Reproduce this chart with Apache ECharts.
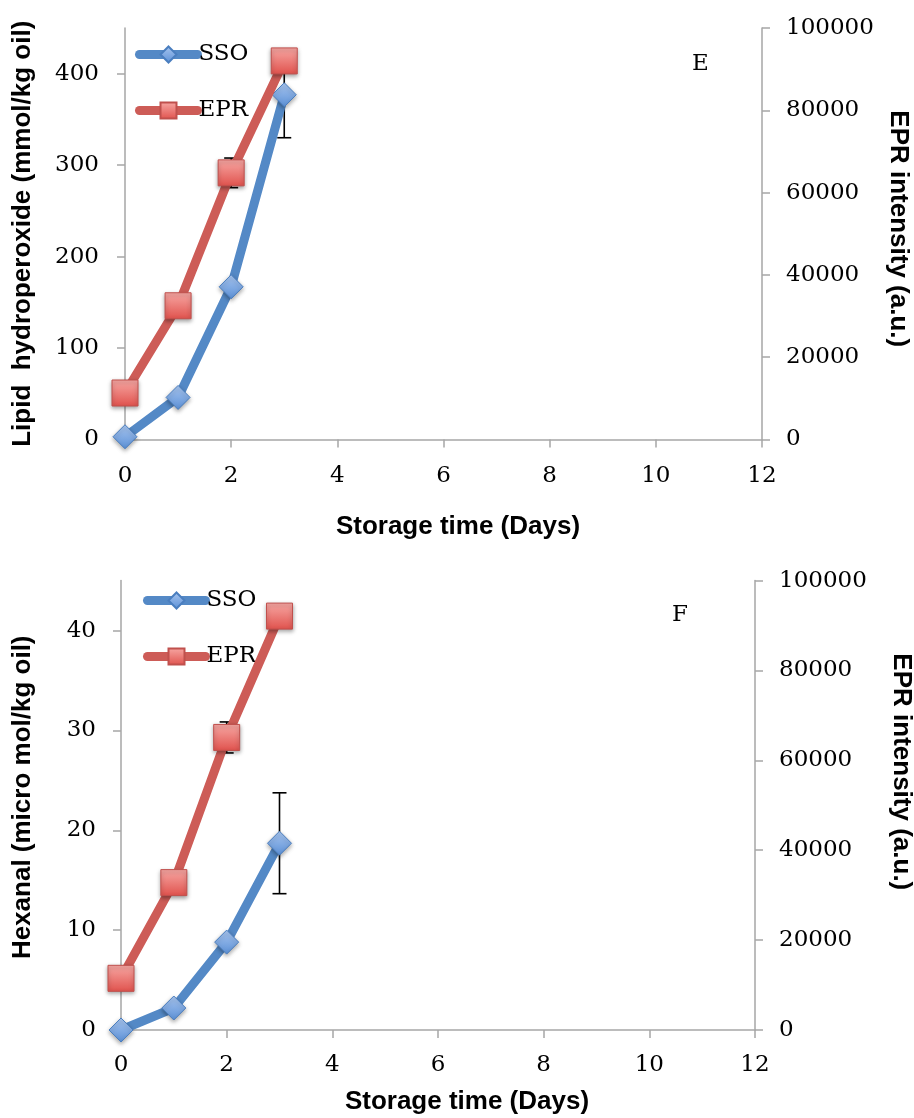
<!DOCTYPE html>
<html><head><meta charset="utf-8">
<script src="https://cdn.jsdelivr.net/npm/echarts@6/dist/echarts.min.js"></script>
<style>html,body{margin:0;padding:0;background:#fff}#c{width:914px;height:1118px}</style>
</head><body><div id="c"></div>
<script>
// ---- data ----
const days = [0, 1, 2, 3];
const ssoHydroperoxide = [3, 46, 167, 377];
const ssoHydroperoxideErr = [null, null, null, 47];
const eprIntensityE = [11300, 32500, 64800, 92000];
const eprErrE = [null, null, 3600, null];
const ssoHexanal = [0, 2.2, 8.8, 18.7];
const ssoHexanalErr = [null, null, null, 5.05];
const eprIntensityF = [11500, 32800, 65100, 92100];
const eprErrF = [null, null, 3450, null];
const xTicks = [0, 2, 4, 6, 8, 10, 12];
const hydroTicks = [0, 100, 200, 300, 400];
const hexanalTicks = [0, 10, 20, 30, 40];
const eprTicks = [0, 20000, 40000, 60000, 80000, 100000];
const seriesNames = ['SSO', 'EPR'];
const panelLabels = ['E', 'F'];

// ---- styles ----
const SERIF = 'DejaVu Serif';
const SANS = 'Liberation Sans';
const AX = '#a6a6a6';
const BLUE = '#5489c6';
const RED = '#cd5c57';
const blueFill = new echarts.graphic.LinearGradient(0, 0, 0, 1, [
  {offset: 0, color: '#a9c6f0'}, {offset: 1, color: '#5b90d6'}]);
const redFill = new echarts.graphic.LinearGradient(0, 0, 0, 1, [
  {offset: 0, color: '#f7a8a4'}, {offset: 1, color: '#e0524d'}]);

function pairs(xs, ys) { return xs.map((x, i) => [x, ys[i]]); }
function errData(xs, ys, es) {
  const out = [];
  xs.forEach((x, i) => { if (es[i] != null) out.push([x, ys[i] - es[i], ys[i] + es[i]]); });
  return out;
}
function errRender(params, api) {
  const x = api.value(0), lo = api.value(1), hi = api.value(2);
  const pLo = api.coord([x, lo]), pHi = api.coord([x, hi]);
  const w = 7;
  const style = {stroke: '#000', lineWidth: 1.6};
  return {type: 'group', children: [
    {type: 'line', shape: {x1: pLo[0], y1: pLo[1], x2: pHi[0], y2: pHi[1]}, style: style},
    {type: 'line', shape: {x1: pLo[0] - w, y1: pLo[1], x2: pLo[0] + w, y2: pLo[1]}, style: style},
    {type: 'line', shape: {x1: pHi[0] - w, y1: pHi[1], x2: pHi[0] + w, y2: pHi[1]}, style: style}
  ]};
}
const plain = v => String(v);

const tickLabel = {fontFamily: SERIF, fontSize: 23, color: '#000', formatter: plain};
const titleText = {fontFamily: SANS, fontWeight: 'bold', fontSize: 26, color: '#000'};
const axLine = {show: true, lineStyle: {color: AX, width: 1.5}};
const axTick = {show: true, length: 8, lineStyle: {color: AX, width: 1.5}};

function xAxis(g, gap, pad, margin) {
  return {type: 'value', gridIndex: g, min: xTicks[0], max: xTicks[xTicks.length - 1], interval: xTicks[1] - xTicks[0],
    axisLine: axLine, axisTick: axTick, splitLine: {show: false},
    axisLabel: Object.assign({margin: margin}, tickLabel),
    name: 'Storage time (Days)', nameLocation: 'middle', nameGap: gap,
    nameTextStyle: Object.assign({padding: [0, 0, 0, pad]}, titleText)};
}
function leftAxis(g, ticks, max, name, gap, pad, margin) {
  return {type: 'value', gridIndex: g, position: 'left', min: 0, max: max,
    axisLine: axLine, splitLine: {show: false},
    axisTick: Object.assign({customValues: ticks}, axTick),
    axisLabel: Object.assign({customValues: ticks, margin: margin}, tickLabel),
    name: name, nameLocation: 'middle', nameGap: gap,
    nameTextStyle: Object.assign({padding: [0, 0, 0, pad]}, titleText)};
}
function rightAxis(g, gap, pad) {
  return {type: 'value', gridIndex: g, position: 'right', min: eprTicks[0], max: eprTicks[eprTicks.length - 1],
    interval: eprTicks[1] - eprTicks[0],
    axisLine: axLine, axisTick: axTick, splitLine: {show: false},
    axisLabel: Object.assign({margin: 24}, tickLabel),
    name: 'EPR intensity (a.u.)', nameLocation: 'middle', nameGap: gap, nameRotate: -90,
    nameTextStyle: Object.assign({padding: [0, pad, 0, 0]}, titleText)};
}
function ssoSeries(xi, yi, data) {
  return {name: seriesNames[0], type: 'line', xAxisIndex: xi, yAxisIndex: yi, data: data, z: 3,
    symbol: 'diamond', symbolSize: 24,
    lineStyle: {color: BLUE, width: 9, cap: 'round', join: 'round'},
    itemStyle: {color: blueFill, borderColor: '#4a7ebf', borderWidth: 1,
      shadowBlur: 4, shadowColor: 'rgba(0,0,0,0.35)', shadowOffsetY: 2}};
}
function eprSeries(xi, yi, data) {
  return {name: seriesNames[1], type: 'line', xAxisIndex: xi, yAxisIndex: yi, data: data, z: 4,
    symbol: 'rect', symbolSize: 26,
    lineStyle: {color: RED, width: 9, cap: 'round', join: 'round'},
    itemStyle: {color: redFill, borderColor: '#c0504d', borderWidth: 1,
      shadowBlur: 4, shadowColor: 'rgba(0,0,0,0.35)', shadowOffsetY: 2}};
}
function errSeries(xi, yi, data) {
  return {type: 'custom', xAxisIndex: xi, yAxisIndex: yi, data: data, z: 1,
    encode: {x: 0, y: [1, 2]}, renderItem: errRender, silent: true};
}
function legend(left, top) {
  return {data: seriesNames, orient: 'vertical', left: left, top: top, padding: 0,
    itemWidth: 58, itemHeight: 20, itemGap: 33,
    lineStyle: {width: 9, cap: 'round'},
    selectedMode: false, textStyle: {fontFamily: SERIF, fontSize: 23, color: '#000', padding: [0, 0, 0, -4]}};
}

const option = {
  backgroundColor: '#fff',
  animation: false,
  title: [
    {text: panelLabels[0], left: 692, top: 53, padding: 0, textStyle: {fontFamily: SERIF, fontWeight: 'normal', fontSize: 23, color: '#000'}},
    {text: panelLabels[1], left: 672, top: 604, padding: 0, textStyle: {fontFamily: SERIF, fontWeight: 'normal', fontSize: 23, color: '#000'}}
  ],
  legend: [legend(135, 43), legend(143, 589)],
  grid: [
    {left: 125, top: 28, width: 637, height: 411.5, outerBoundsMode: 'none', containLabel: false},
    {left: 121, top: 580.6, width: 634, height: 449.4, outerBoundsMode: 'none', containLabel: false}
  ],
  xAxis: [xAxis(0, 74, 29, 25), xAxis(1, 59, 58, 24)],
  yAxis: [
    leftAxis(0, hydroTicks, 450, 'Lipid  hydroperoxide (mmol/kg oil)', 89, 0, 26),
    rightAxis(0, 121, 10),
    leftAxis(1, hexanalTicks, 45, 'Hexanal (micro mol/kg oil)', 85, 16, 25),
    rightAxis(1, 133, 67)
  ],
  series: [
    errSeries(0, 0, errData(days, ssoHydroperoxide, ssoHydroperoxideErr)),
    errSeries(0, 1, errData(days, eprIntensityE, eprErrE)),
    ssoSeries(0, 0, pairs(days, ssoHydroperoxide)),
    eprSeries(0, 1, pairs(days, eprIntensityE)),
    errSeries(1, 2, errData(days, ssoHexanal, ssoHexanalErr)),
    errSeries(1, 3, errData(days, eprIntensityF, eprErrF)),
    ssoSeries(1, 2, pairs(days, ssoHexanal)),
    eprSeries(1, 3, pairs(days, eprIntensityF))
  ]
};
const chart = echarts.init(document.getElementById('c'), null, {renderer: 'canvas'});
chart.setOption(option);
</script>
</body></html>
